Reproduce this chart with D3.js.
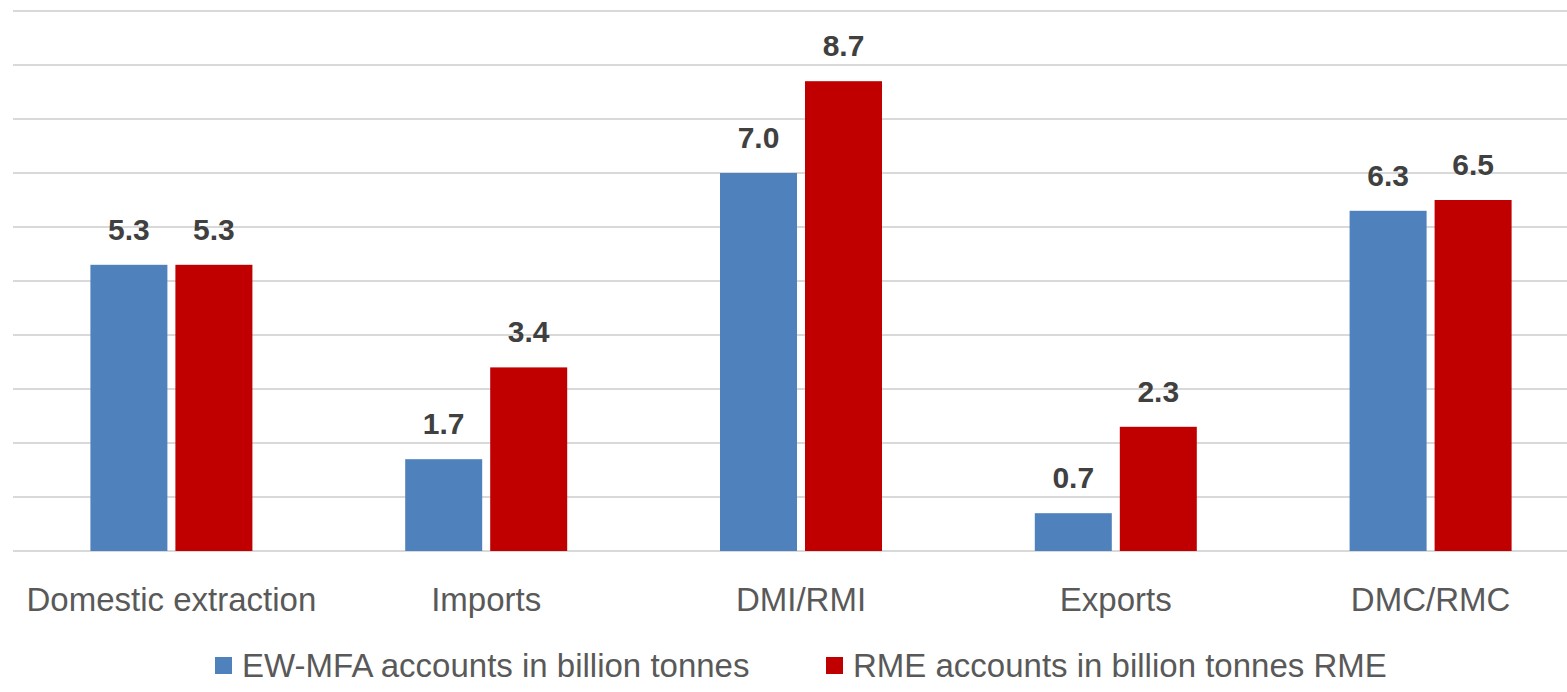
<!DOCTYPE html>
<html>
<head>
<meta charset="utf-8">
<script src="https://cdn.jsdelivr.net/npm/d3@7"></script>
<style>
  body { margin: 0; background: #fff; }
  svg { display: block; }
</style>
</head>
<body>
<div id="chart"></div>
<script>
// data
var categories = ["Domestic extraction", "Imports", "DMI/RMI", "Exports", "DMC/RMC"];
var seriesNames = ["EW-MFA accounts in billion tonnes", "RME accounts in billion tonnes RME"];
var ewmfa = [5.3, 1.7, 7.0, 0.7, 6.3];
var rme = [5.3, 3.4, 8.7, 2.3, 6.5];
var colors = ["#4f81bd", "#c00000"];

var width = 1567, height = 692;
var baseY = 551, topY = 11;

var svg = d3.select("#chart").append("svg")
    .attr("width", width)
    .attr("height", height);

var x = d3.scaleBand().domain(categories).range([14, 1588]);
var y = d3.scaleLinear().domain([0, 10]).range([baseY, topY]);

// gridlines
svg.append("g").selectAll("line")
    .data(y.ticks(10))
    .enter().append("line")
    .attr("x1", 13).attr("x2", width)
    .attr("y1", function(d) { return y(d); })
    .attr("y2", function(d) { return y(d); })
    .style("stroke", "#d9d9d9")
    .style("stroke-width", 2);

var barW = 77, gap = 8;
var rows = categories.map(function(c, i) {
    return [{ cat: c, v: ewmfa[i], s: 0 }, { cat: c, v: rme[i], s: 1 }];
});
var flat = [].concat.apply([], rows);

function barX(d) {
    var cx = x(d.cat) + x.bandwidth() / 2;
    return d.s === 0 ? cx - gap / 2 - barW : cx + gap / 2;
}

svg.append("g").selectAll("rect")
    .data(flat)
    .enter().append("rect")
    .attr("x", barX)
    .attr("y", function(d) { return y(d.v); })
    .attr("width", barW)
    .attr("height", function(d) { return baseY - y(d.v); })
    .style("fill", function(d) { return colors[d.s]; });

// value labels
svg.append("g").selectAll("text")
    .data(flat)
    .enter().append("text")
    .attr("x", function(d) { return barX(d) + barW / 2; })
    .attr("y", function(d) { return y(d.v) - 25; })
    .attr("text-anchor", "middle")
    .style("font-family", "Liberation Sans, Arial, sans-serif")
    .style("font-weight", "bold")
    .style("font-size", "30px")
    .style("fill", "#404040")
    .text(function(d) { return d.v.toFixed(1); });

// category axis labels
svg.append("g").selectAll("text")
    .data(categories)
    .enter().append("text")
    .attr("x", function(d) { return x(d) + x.bandwidth() / 2; })
    .attr("y", 611)
    .attr("text-anchor", "middle")
    .style("font-family", "Liberation Sans, Arial, sans-serif")
    .style("font-size", "33px")
    .style("fill", "#595959")
    .text(function(d) { return d; });

// legend
var legendX = [215, 826];
var legend = svg.append("g").selectAll("g")
    .data(seriesNames)
    .enter().append("g")
    .attr("transform", function(d, i) { return "translate(" + legendX[i] + ",0)"; });

legend.append("rect")
    .attr("x", 0).attr("y", 657)
    .attr("width", 17).attr("height", 17)
    .style("fill", function(d, i) { return colors[i]; });

legend.append("text")
    .attr("x", 27).attr("y", 677)
    .style("font-family", "Liberation Sans, Arial, sans-serif")
    .style("font-size", "33px")
    .style("fill", "#595959")
    .text(function(d) { return d; });
</script>
</body>
</html>
